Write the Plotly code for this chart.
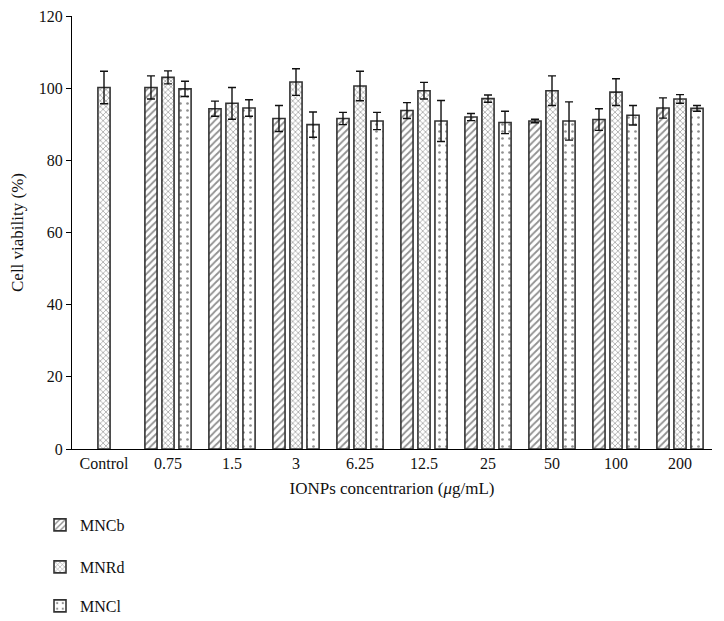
import plotly.graph_objects as go

categories = ["Control", "0.75", "1.5", "3", "6.25", "12.5", "25", "50", "100", "200"]
mncb = [None, 100.2, 94.3, 91.6, 91.6, 93.8, 92.0, 90.9, 91.3, 94.5]
mncb_err = [None, 3.2, 2.1, 3.6, 1.7, 2.2, 1.0, 0.5, 3.0, 2.8]
mnrd = [100.2, 103.0, 95.8, 101.7, 100.6, 99.3, 97.1, 99.3, 98.9, 97.0]
mnrd_err = [4.5, 1.8, 4.4, 3.7, 4.1, 2.3, 1.0, 4.1, 3.7, 1.2]
mncl = [None, 99.8, 94.5, 89.9, 90.9, 90.9, 90.5, 90.9, 92.5, 94.4]
mncl_err = [None, 2.1, 2.3, 3.5, 2.4, 5.7, 3.1, 5.3, 2.7, 0.8]

FONT = "Liberation Serif"
W = 0.19

def bar(name, legend, y, err, offset, shape, size, solidity):
    return go.Bar(
        name=name, legend=legend, x=categories, y=y, width=W, offset=offset,
        marker=dict(color="white",
                    line=dict(color="#333333", width=1.6),
                    pattern=dict(shape=shape, fgcolor="#222222", bgcolor="white",
                                 size=size, solidity=solidity)),
        error_y=dict(type="data", array=err, visible=True, color="#111111",
                     thickness=1.4, width=4),
    )

fig = go.Figure()
fig.add_trace(bar("MNCb", "legend", mncb, mncb_err, -0.361, "/", 5, 0.35))
fig.add_trace(bar("MNRd", "legend2", mnrd, mnrd_err, -0.095, "x", 4, 0.3))
fig.add_trace(bar("MNCl", "legend3", mncl, mncl_err, 0.171, ".", 7, 0.12))

leg = dict(x=-0.05, xanchor="left", yanchor="middle",
           font=dict(family=FONT, size=16), bgcolor="rgba(0,0,0,0)")

fig.update_layout(
    width=724, height=621,
    margin=dict(l=72, r=12, t=16, b=172, autoexpand=False),
    plot_bgcolor="white", paper_bgcolor="white",
    barmode="overlay",
    font=dict(family=FONT, size=16, color="#111111"),
    showlegend=True,
    legend=dict(leg, y=-0.1755),
    legend2=dict(leg, y=-0.2725),
    legend3=dict(leg, y=-0.3626),
    xaxis=dict(
        type="category", range=[-0.5, 9.5], automargin=False,
        showline=True, linecolor="black", linewidth=1.2,
        ticks="", showgrid=False, zeroline=False,
        tickfont=dict(family=FONT, size=16),
        title=dict(text="IONPs concentrarion (<i>μ</i>g/mL)",
                   font=dict(family=FONT, size=17), standoff=10),
    ),
    yaxis=dict(
        range=[0, 120], dtick=20, automargin=False,
        showline=True, linecolor="black", linewidth=1.2,
        ticks="outside", ticklen=5, tickcolor="black",
        showgrid=False, zeroline=False,
        tickfont=dict(family=FONT, size=16),
        title=dict(text="Cell viability (%)", font=dict(family=FONT, size=17), standoff=10),
    ),
)

fig.write_html("out.html", config={"displayModeBar": False},
               post_script="document.body.style.margin='0';")
